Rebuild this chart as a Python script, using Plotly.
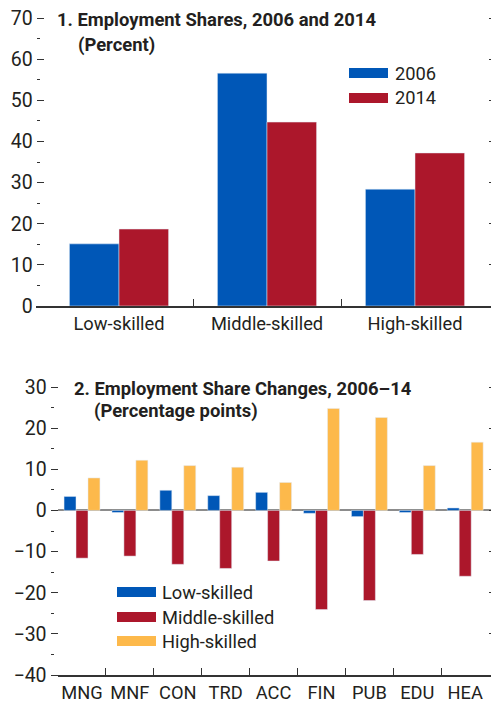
import plotly.graph_objects as go

# ---------------- data ----------------
skill_categories = ["Low-skilled", "Middle-skilled", "High-skilled"]
share_2006 = [15.1, 56.6, 28.4]
share_2014 = [18.7, 44.7, 37.2]

sectors = ["MNG", "MNF", "CON", "TRD", "ACC", "FIN", "PUB", "EDU", "HEA"]
chg_low = [3.4, -0.5, 4.9, 3.6, 4.4, -0.7, -1.5, -0.5, 0.6]
chg_mid = [-11.6, -11.1, -13.1, -14.1, -12.3, -24.1, -21.9, -10.7, -16.0]
chg_high = [7.9, 12.2, 10.9, 10.5, 6.8, 24.8, 22.6, 10.9, 16.6]

top_ticks = [0, 10, 20, 30, 40, 50, 60, 70]
bot_ticks = [-40, -30, -20, -10, 0, 10, 20, 30]

# ---------------- style ----------------
W, H = 491, 705
FONT = "Roboto, Liberation Sans, sans-serif"
TXT = "#231f20"
AX = "#333333"
BLUE = "#0057b7"
RED = "#ac172b"
YELLOW = "#fdb94b"
FS_TICK = 19.5
FS_TEXT = 18.3
FS_TITLE = 18.4


def px(x):
    return x / W


def py(y):
    return 1 - y / H


top_dom = [py(306), py(18)]
bot_dom = [py(675), py(387)]

xt = list(range(len(skill_categories)))
xb = list(range(len(sectors)))

fig = go.Figure()
wt = 0.335
fig.add_bar(x=xt, y=share_2006, width=wt, offset=-wt, marker_color=BLUE,
            xaxis="x", yaxis="y", showlegend=False)
fig.add_bar(x=xt, y=share_2014, width=wt, offset=0, marker_color=RED,
            xaxis="x", yaxis="y", showlegend=False)
wb = 0.25
for vals, col, off in [(chg_low, BLUE, -1.5 * wb), (chg_mid, RED, -0.5 * wb), (chg_high, YELLOW, 0.5 * wb)]:
    fig.add_bar(x=xb, y=vals, width=wb, offset=off, marker_color=col,
                xaxis="x2", yaxis="y2", showlegend=False)

ytickfont = dict(family=FONT, size=FS_TICK, color=TXT)
xtickfont = dict(family=FONT, size=FS_TEXT, color=TXT)

fig.update_layout(
    width=W, height=H, margin=dict(l=0, r=0, t=0, b=0, autoexpand=False),
    paper_bgcolor="white", plot_bgcolor="white",
    barmode="overlay", showlegend=False,
    font=dict(family=FONT, size=FS_TEXT, color=TXT),
    xaxis=dict(domain=[px(36), 1.0], range=[(36 - 119) / 148, (491 - 119) / 148],
               anchor="y", tickvals=xt, ticktext=skill_categories, ticks="",
               showline=True, linecolor=AX, linewidth=1.5, showgrid=False, zeroline=False,
               tickfont=xtickfont, automargin=False,
               minor=dict(tickvals=[i + 0.5 for i in xt[:-1]], ticks="inside", ticklen=7,
                          tickcolor=AX, tickwidth=1.2)),
    yaxis=dict(domain=top_dom, range=[0, 70], anchor="free", position=px(43.5),
               tickvals=top_ticks, ticks="outside", ticklen=7, tickcolor=AX, tickwidth=1.2,
               showgrid=False, zeroline=False, showline=False, tickfont=ytickfont,
               automargin=False),
    yaxis3=dict(overlaying="y", range=[0, 70], anchor="free", position=px(40),
                tickvals=[t + 5 for t in top_ticks[:-1]], ticks="outside", ticklen=3,
                tickcolor=AX, tickwidth=1.2, showticklabels=False, showgrid=False,
                zeroline=False, showline=False),
    yaxis4=dict(overlaying="y", range=[0, 70], anchor="free", position=px(488), side="right",
                tickvals=top_ticks, ticks="outside", ticklen=3, tickcolor=AX, tickwidth=1.2,
                showticklabels=False, showgrid=False, zeroline=False, showline=False),
    xaxis2=dict(domain=[px(58), 1.0], range=[(58 - 82) / 47.9, (491 - 82) / 47.9],
                anchor="y2", tickvals=xb, ticktext=sectors, ticks="",
                showline=True, linecolor=AX, linewidth=1.5, showgrid=False, zeroline=False,
                tickfont=xtickfont, automargin=False,
                minor=dict(tickvals=[i + 0.5 for i in xb[:-1]], ticks="inside", ticklen=7,
                           tickcolor=AX, tickwidth=1.2)),
    yaxis2=dict(domain=bot_dom, range=[-40, 30], anchor="free", position=px(57.5),
                tickvals=bot_ticks, ticks="outside", ticklen=7, tickcolor=AX, tickwidth=1.2,
                showgrid=False, zeroline=True, zerolinecolor="#8c8c8c", zerolinewidth=1.5,
                showline=False, tickfont=ytickfont, automargin=False),
    yaxis5=dict(overlaying="y2", range=[-40, 30], anchor="free", position=px(53.5),
                tickvals=[t + 5 for t in bot_ticks[:-1]], ticks="outside", ticklen=3,
                tickcolor=AX, tickwidth=1.2, showticklabels=False, showgrid=False,
                zeroline=False, showline=False),
    yaxis6=dict(overlaying="y2", range=[-40, 30], anchor="free", position=px(488), side="right",
                tickvals=bot_ticks, ticks="outside", ticklen=3, tickcolor=AX, tickwidth=1.2,
                showticklabels=False, showgrid=False, zeroline=False, showline=False),
)

# invisible helpers so overlay axes render
for ya, xa in [("y3", "x"), ("y4", "x"), ("y5", "x2"), ("y6", "x2")]:
    fig.add_scatter(x=[None], y=[None], xaxis=xa, yaxis=ya, showlegend=False, hoverinfo="skip")

ann = []


def text(x, y, s, bold=False, size=FS_TEXT):
    ann.append(dict(x=px(x), y=py(y), xref="paper", yref="paper", xanchor="left",
                    yanchor="middle", showarrow=False,
                    text=f"<b>{s}</b>" if bold else s,
                    font=dict(family=FONT, size=size, color=TXT)))


text(55, 19, "1. Employment Shares, 2006 and 2014", bold=True, size=FS_TITLE)
text(76, 45, "(Percent)", bold=True, size=FS_TITLE)
text(72, 388, "2. Employment Share Changes, 2006\u201314", bold=True, size=FS_TITLE)
text(92, 411, "(Percentage points)", bold=True, size=FS_TITLE)

shapes = []


def swatch(x0, y0, x1, y1, col):
    shapes.append(dict(type="rect", xref="paper", yref="paper", x0=px(x0), x1=px(x1),
                       y0=py(y1), y1=py(y0), fillcolor=col, line=dict(width=0)))


swatch(349, 68, 388, 78, BLUE)
text(393, 73, "2006")
swatch(349, 93, 388, 103, RED)
text(393, 98, "2014")

swatch(117, 587, 156, 597, BLUE)
text(160, 592, "Low-skilled")
swatch(117, 612, 156, 622, RED)
text(160, 617, "Middle-skilled")
swatch(117, 636, 156, 646, YELLOW)
text(160, 641, "High-skilled")

fig.update_layout(annotations=ann, shapes=shapes)
fig.write_html("out.html", config={"displayModeBar": False},
               post_script="document.body.style.margin='0';document.body.style.overflow='hidden';")
